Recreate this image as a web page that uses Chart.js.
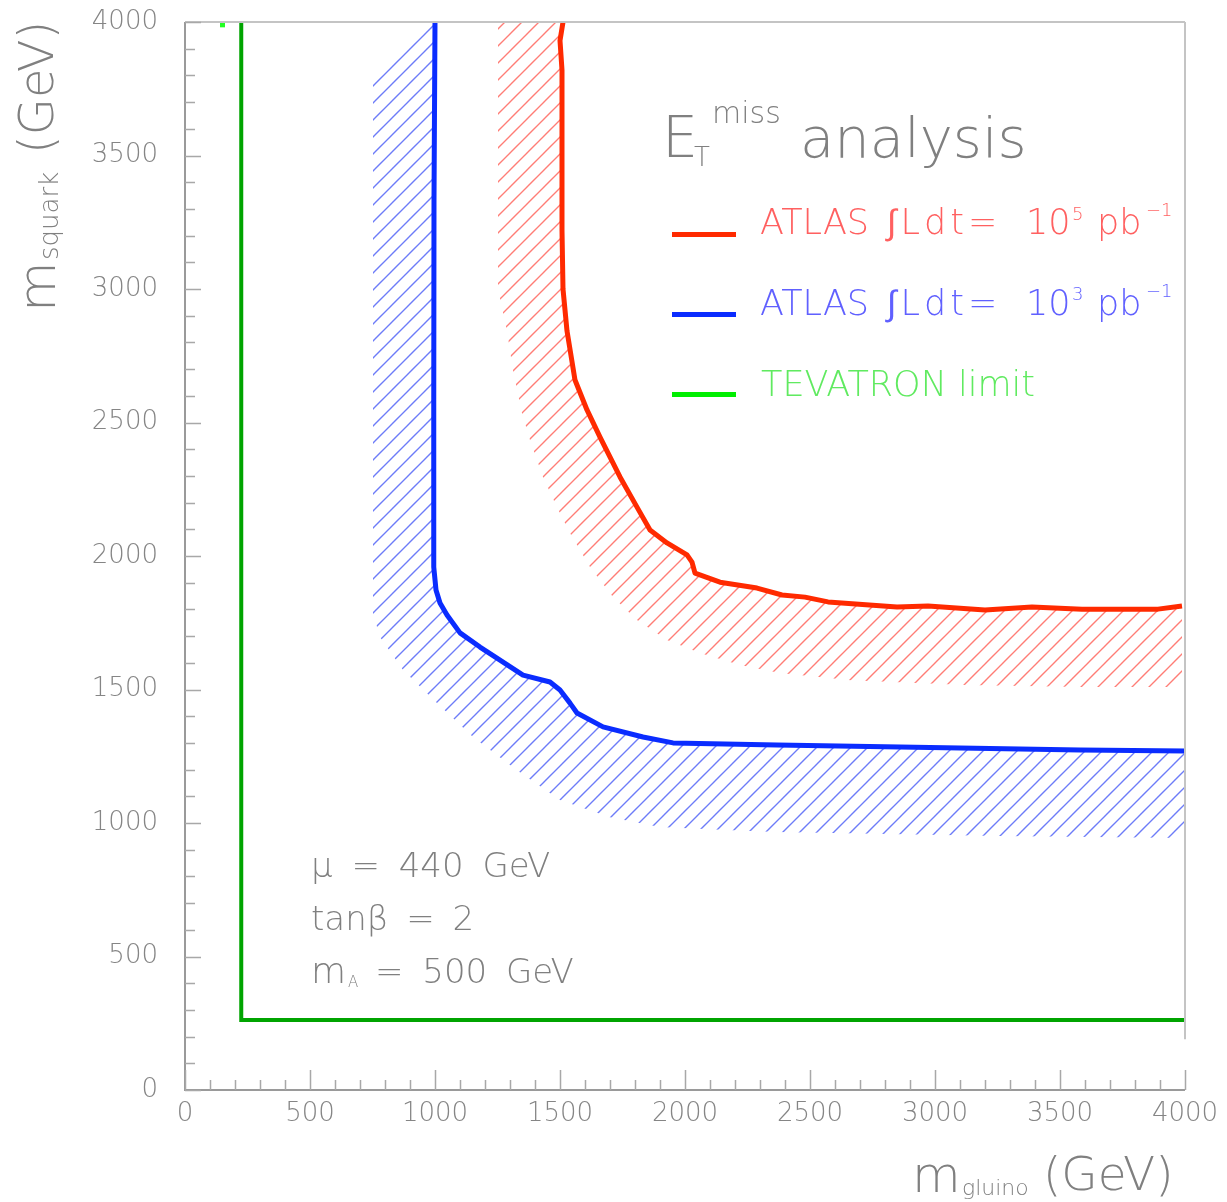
<!DOCTYPE html>
<html><head><meta charset="utf-8">
<script src="https://cdn.jsdelivr.net/npm/chart.js@4.4.1/dist/chart.umd.min.js"></script>
<style>
html,body{margin:0;padding:0;background:#fff;}
#wrap{position:relative;width:1227px;height:1202px;overflow:hidden;background:#fff;}
#c{position:absolute;left:0;top:0;}
.t{position:absolute;white-space:nowrap;font-family:"DejaVu Sans",sans-serif;font-weight:200;line-height:1;}
.ln{position:absolute;height:5px;}
</style></head><body>
<div id="wrap"><canvas id="c" width="1227" height="1202"></canvas></div>
<script>
// ---- data (GeV) ----
const xTickLabels = ['0','500','1000','1500','2000','2500','3000','3500','4000'];
const yTickLabels = ['0','500','1000','1500','2000','2500','3000','3500','4000'];

// ATLAS 10^5 pb^-1 limit (red)
const redX = [1512,1500,1508,1508,1508,1512,1528,1560,1608,1660,1740,1808,1860,1928,2008,2028,2040,2140,2288,2388,2480,2572,2848,2972,3200,3388,3588,3892,3988];
const redY = [4000,3930,3820,3520,3220,3000,2843,2659,2547,2445,2296,2183,2097,2049,2004,1977,1936,1902,1880,1854,1846,1828,1809,1813,1798,1809,1801,1801,1813];
// outer edge of red hatched band
const redBandX = [1252,1252,1288,1312,1348,1380,1432,1488,1540,1620,1712,1808,1928,2060,2220,2380,2664,3124,3584,3988];
const redBandY = [4000,3000,2843,2696,2535,2434,2296,2183,2086,1959,1846,1760,1685,1637,1592,1562,1535,1517,1509,1509];

// ATLAS 10^3 pb^-1 limit (blue)
const blueX = [1000,996,995,995,1004,1020,1048,1100,1180,1260,1352,1460,1500,1540,1568,1672,1832,1952,2368,2860,3580,4000];
const blueY = [4000,3333,2584,1959,1873,1824,1779,1712,1659,1610,1554,1528,1498,1449,1412,1360,1322,1300,1292,1285,1273,1270];
// outer edge of blue hatched band
const blueBandX = [752,752,780,872,1008,1152,1328,1500,1700,1900,2168,2368,3260,4000];
const blueBandY = [3783,1786,1697,1573,1449,1322,1198,1086,1022,985,974,966,951,944];

// TEVATRON limit (green)
const tevX = [225,225,4000];
const tevY = [4000,262,262];
const tevMarkX = [150,150];
const tevMarkY = [3980,4000];

const legendLabels = ['ATLAS \u222BLdt= 10^5 pb^-1','ATLAS \u222BLdt= 10^3 pb^-1','TEVATRON limit'];

// ---- helpers ----
const pts = (xs, ys) => xs.map((x, i) => ({x, y: ys[i]}));
const band = (cx, cy, ox, oy) => pts(cx, cy).concat(pts(ox, oy).reverse());

const canvas = document.getElementById('c');
const ctx = canvas.getContext('2d');
function hatch(color){
  const s = 17, c = document.createElement('canvas');
  c.width = s; c.height = s;
  const g = c.getContext('2d');
  g.strokeStyle = color; g.lineWidth = 1.4;
  g.beginPath();
  g.moveTo(-2, s + 2); g.lineTo(s + 2, -2);
  g.moveTo(-3, 3); g.lineTo(3, -3);
  g.moveTo(s - 3, s + 3); g.lineTo(s + 3, s - 3);
  g.stroke();
  return ctx.createPattern(c, 'repeat');
}

const framePlugin = {
  id: 'frame',
  afterDatasetsDraw(chart){
    const {ctx, chartArea: a, scales: {x, y}} = chart;
    ctx.save();
    ctx.lineCap = 'butt';
    ctx.strokeStyle = '#c4c4c4'; ctx.lineWidth = 2;
    ctx.beginPath();
    ctx.moveTo(a.left, a.top); ctx.lineTo(a.right, a.top);
    ctx.moveTo(a.right, a.top); ctx.lineTo(a.right, y.getPixelForValue(190));
    ctx.stroke();
    ctx.strokeStyle = '#9a9a9a'; ctx.lineWidth = 2;
    ctx.beginPath();
    ctx.moveTo(a.left, a.top); ctx.lineTo(a.left, a.bottom); ctx.lineTo(a.right, a.bottom);
    ctx.stroke();
    ctx.strokeStyle = '#a8a8a8'; ctx.lineWidth = 1.5;
    ctx.beginPath();
    for (let v = 0; v <= 4000; v += 100){
      const px = Math.round(x.getPixelForValue(v)) + 0.5;
      const lx = v % 500 === 0 ? 20 : 10;
      ctx.moveTo(px, a.bottom); ctx.lineTo(px, a.bottom - lx);
      const py = Math.round(y.getPixelForValue(v)) + 0.5;
      const ly = v % 500 === 0 ? 16 : 10;
      ctx.moveTo(a.left, py); ctx.lineTo(a.left + ly, py);
    }
    ctx.stroke();
    ctx.restore();
  }
};

const tickFont = {family: 'DejaVu Sans', size: 26, weight: '200'};
new Chart(ctx, {
  type: 'scatter',
  data: {datasets: [
    {label: legendLabels[0], data: pts(redX, redY), showLine: true, borderColor: '#ff2a00', borderWidth: 5, pointRadius: 0, fill: false, borderJoinStyle: 'round', order: 0},
    {label: legendLabels[1], data: pts(blueX, blueY), showLine: true, borderColor: '#0a2cff', borderWidth: 5, pointRadius: 0, fill: false, borderJoinStyle: 'round', order: 0},
    {label: legendLabels[2], data: pts(tevX, tevY), showLine: true, borderColor: '#00a400', borderWidth: 4, pointRadius: 0, fill: false, order: 0},
    {label: 'tev mark', data: pts(tevMarkX, tevMarkY), showLine: true, borderColor: '#22ff22', borderWidth: 5, pointRadius: 0, fill: false, order: 0},
    {label: 'red band', data: band(redX, redY, redBandX, redBandY), showLine: true, borderWidth: 0, borderColor: 'rgba(0,0,0,0)', backgroundColor: hatch('rgba(255,70,60,0.7)'), pointRadius: 0, fill: 'shape', order: 1},
    {label: 'blue band', data: band(blueX, blueY, blueBandX, blueBandY), showLine: true, borderWidth: 0, borderColor: 'rgba(0,0,0,0)', backgroundColor: hatch('rgba(60,80,245,0.75)'), pointRadius: 0, fill: 'shape', order: 1}
  ]},
  options: {
    responsive: false, animation: false, devicePixelRatio: 1,
    layout: {padding: {left: 0, right: 42, top: 22, bottom: 0}},
    plugins: {legend: {display: false}, tooltip: {enabled: false}},
    scales: {
      x: {type: 'linear', min: 0, max: 4000,
          afterFit(s){ s.height = 112; s.paddingLeft = 0; s.paddingRight = 0; },
          grid: {display: false, drawTicks: false}, border: {display: false},
          ticks: {stepSize: 500, padding: 9, color: '#858585', font: tickFont, maxRotation: 0, autoSkip: false,
                  callback: (v, i) => xTickLabels[i]}},
      y: {type: 'linear', min: 0, max: 4000,
          afterFit(s){ s.width = 185; s.paddingTop = 0; s.paddingBottom = 0; },
          grid: {display: false, drawTicks: false}, border: {display: false},
          ticks: {stepSize: 500, padding: 27, color: '#858585', font: tickFont, autoSkip: false,
                  callback: (v, i) => yTickLabels[i]}}
    }
  },
  plugins: [framePlugin]
});

// ---- text overlay ----
const wrap = document.getElementById('wrap');
const ASC = 0.846;
function put(text, x, base, fs, color, extra){
  const d = document.createElement('div');
  d.className = 't';
  d.textContent = text;
  d.style.left = x + 'px';
  d.style.top = (base - ASC * fs) + 'px';
  d.style.fontSize = fs + 'px';
  d.style.color = color;
  if (extra) Object.assign(d.style, extra);
  wrap.appendChild(d);
  return d;
}
function lineSample(y, color){
  const d = document.createElement('div');
  d.className = 'ln';
  d.style.left = '672px'; d.style.width = '64px';
  d.style.top = (y - 2.5) + 'px'; d.style.background = color;
  wrap.appendChild(d);
}
const grey = '#808080';
// E_T^miss analysis
put('E', 662, 157, 57, grey);
put('T', 694, 166, 26, grey);
put('miss', 712, 123, 30, grey);
put('analysis', 800, 157, 56, grey);
// legend entries
const cR = '#ff6060', cB = '#6060ff', cG = '#60ea60';
lineSample(234, '#ff2a00'); lineSample(314, '#0a2cff'); lineSample(394, '#00ee00');
[[235, cR, '5', 220, 216], [316, cB, '3', 300, 297]].forEach(([b, c, ex, b1, b2]) => {
  put('ATLAS', 760, b, 35, c);
  put('\u222BLdt=', 887, b, 35, c, {letterSpacing: '4px'});
  put('10', 1026, b, 35, c);
  put(ex, 1072, b1, 18, c);
  put('pb', 1097, b, 35, c);
  put('\u22121', 1146, b2, 18, c);
});
put('TEVATRON limit', 761, 397, 35, cG);
// parameters
put('\u03BC = 440 GeV', 311, 877, 34, grey, {wordSpacing: '8px'});
put('tan\u03B2 = 2', 311, 930, 34, grey, {wordSpacing: '7px'});
put('m', 311, 983, 36, grey);
put('A', 348, 988, 15, grey);
put('= 500 GeV', 375, 983, 34, grey, {wordSpacing: '8px'});
// x axis title
put('m', 912, 1192, 50, grey);
put('gluino', 962, 1196, 22, grey);
put('(GeV)', 1043, 1190, 47, grey);
// y axis title (rotated)
const yt = document.createElement('div');
yt.style.cssText = 'position:absolute;left:55px;top:312px;width:0;height:0;transform:rotate(-90deg);transform-origin:0 0;';
wrap.appendChild(yt);
function putR(text, u, v, fs){
  const d = document.createElement('div');
  d.className = 't'; d.textContent = text;
  d.style.left = u + 'px'; d.style.top = (v - ASC * fs) + 'px';
  d.style.fontSize = fs + 'px'; d.style.color = grey;
  yt.appendChild(d);
}
putR('m', 0, 0, 52);
putR('squark', 52, 3, 26);
putR('(GeV)', 158, -2, 48);
</script>
</body></html>
